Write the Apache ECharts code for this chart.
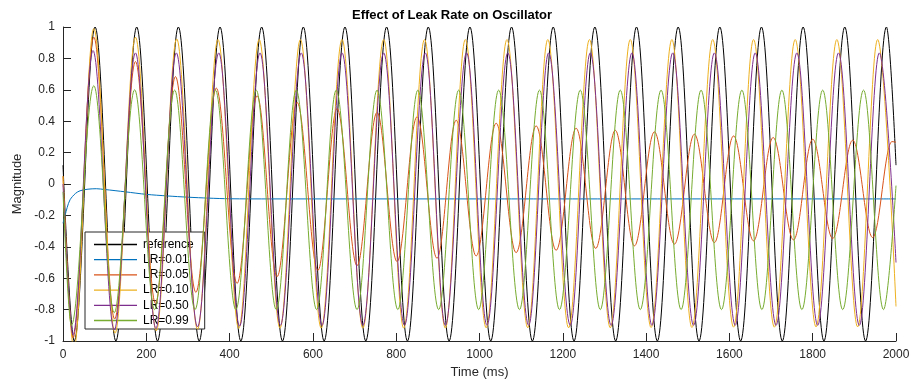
<!DOCTYPE html>
<html>
<head>
<meta charset="utf-8">
<script src="https://cdn.jsdelivr.net/npm/echarts@6/dist/echarts.min.js"></script>
<style>
html,body{margin:0;padding:0;background:#fff;}
#c{width:916px;height:385px;}
</style>
</head>
<body>
<div id="c"></div>
<script>
// ---- data (time in ms, magnitude) ----
const seriesNames = ['reference', 'LR=0.01', 'LR=0.05', 'LR=0.10', 'LR=0.50', 'LR=0.99'];
const xTicks = [0, 200, 400, 600, 800, 1000, 1200, 1400, 1600, 1800, 2000];
const yTicks = [-1, -0.8, -0.6, -0.4, -0.2, 0, 0.2, 0.4, 0.6, 0.8, 1];

// reference: start, then alternating troughs / peaks, end
const refT = [0,27,77,127,177,227,277,327,377,427,477,527,577,627,677,727,777,827,877,927,977,1027,1077,1127,1177,1227,1277,1327,1377,1427,1477,1527,1577,1627,1677,1727,1777,1827,1877,1927,1977,2000];
const refV = [0.12,-1,1,-1,1,-1,1,-1,1,-1,1,-1,1,-1,1,-1,1,-1,1,-1,1,-1,1,-1,1,-1,1,-1,1,-1,1,-1,1,-1,1,-1,1,-1,1,-1,1,0.12];

// LR=0.01: slow drift
const lr001T = [0,5,10,17,30,41,60,80,100,150,200,250,300,350,400,500,1000,2000];
const lr001V = [-0.25,-0.2,-0.15,-0.1,-0.06,-0.043,-0.033,-0.03,-0.035,-0.05,-0.066,-0.076,-0.084,-0.09,-0.094,-0.095,-0.095,-0.095];

// LR=0.05: decaying oscillation (extrema)
const lr005T = [0,24,74,124,174,222,270,319,368,418,466,514,562,612,658,706,754,802,850,898,944,992,1040,1088,1136,1184,1232,1279,1326,1372,1420,1468,1516,1564,1610,1658,1705,1754,1800,1848,1896,1944,1990,2000];
const lr005V = [0.05,-0.98,0.935,-0.86,0.78,-0.76,0.684,-0.69,0.611,-0.633,0.562,-0.59,0.52,-0.55,0.481,-0.52,0.456,-0.494,0.428,-0.473,0.406,-0.458,0.387,-0.437,0.37,-0.422,0.355,-0.41,0.342,-0.394,0.332,-0.383,0.317,-0.373,0.306,-0.362,0.296,-0.356,0.285,-0.347,0.279,-0.341,0.27,0.266];

// LR=0.10 (extrema)
const lr010T = [0,26,74,125,174,224,273,323,372,422,471,521,570,620,670,720,770,818,868,918,966,1016,1066,1116,1164,1214,1264,1314,1362,1412,1462,1510,1560,1610,1658,1708,1758,1808,1858,1908,1956,2000];
const lr010V = [0.05,-1.05,0.99,-0.95,0.935,-0.935,0.924,-0.925,0.92,-0.92,0.92,-0.918,0.92,-0.918,0.92,-0.918,0.92,-0.918,0.92,-0.918,0.92,-0.916,0.92,-0.916,0.92,-0.916,0.92,-0.916,0.92,-0.914,0.92,-0.914,0.92,-0.912,0.92,-0.912,0.92,-0.91,0.92,-0.91,0.92,-0.78];

// LR=0.50 (extrema)
const lr050T = [0,24,72,123,174,223,272,323,374,424,473,522,572,622,670,720,770,820,870,918,969,1018,1068,1118,1166,1218,1266,1316,1366,1414,1464,1514,1564,1614,1662,1712,1762,1812,1862,1912,1960,2000];
const lr050V = [0,-0.96,0.85,-0.93,0.835,-0.92,0.835,-0.91,0.835,-0.905,0.835,-0.9,0.835,-0.9,0.835,-0.9,0.835,-0.9,0.835,-0.9,0.835,-0.9,0.835,-0.9,0.835,-0.9,0.835,-0.9,0.835,-0.9,0.835,-0.9,0.835,-0.9,0.835,-0.9,0.835,-0.9,0.835,-0.9,0.835,-0.5];

// LR=0.99 (extrema)
const lr099T = [0,20,74,123,172,220,268,317,366,415,464,512,560,609,656,706,754,804,852,902,950,998,1046,1096,1144,1192,1242,1290,1338,1386,1436,1484,1532,1581,1630,1678,1726,1774,1824,1872,1922,1970,2000];
const lr099V = [-0.05,-0.9,0.626,-0.82,0.6,-0.8,0.598,-0.8,0.598,-0.8,0.598,-0.8,0.598,-0.8,0.598,-0.8,0.598,-0.8,0.598,-0.8,0.598,-0.8,0.598,-0.8,0.598,-0.8,0.598,-0.8,0.598,-0.8,0.598,-0.8,0.598,-0.8,0.598,-0.8,0.598,-0.8,0.598,-0.8,0.598,-0.8,-0.01];

const colors = ['#000000', '#0072BD', '#D95319', '#EDB120', '#7E2F8E', '#77AC30'];

function zip(t, v) { return t.map((x, i) => [x, v[i]]); }

const seriesData = [
  zip(refT, refV), zip(lr001T, lr001V), zip(lr005T, lr005V),
  zip(lr010T, lr010V), zip(lr050T, lr050V), zip(lr099T, lr099V)
];

const FONT = '"Liberation Sans", Arial, Helvetica, sans-serif';
const axisCol = '#262626';

const chart = echarts.init(document.getElementById('c'), null, { renderer: 'canvas' });
chart.setOption({
  animation: false,
  backgroundColor: '#ffffff',
  title: {
    text: 'Effect of Leak Rate on Oscillator',
    left: 352, top: 9, padding: 0,
    textStyle: { fontFamily: FONT, fontSize: 13, fontWeight: 'bold', color: '#000' }
  },
  grid: { left: 63, right: 20, top: 27, bottom: 44 },
  legend: {
    orient: 'vertical', left: 85, top: 232,
    padding: [6.5, 11, 2.5, 9],
    backgroundColor: '#ffffff', borderColor: '#262626', borderWidth: 1,
    icon: 'rect',
    itemWidth: 43, itemHeight: 1.3, itemGap: 3.2,
    textStyle: { fontFamily: FONT, fontSize: 12, color: '#000', lineHeight: 12, padding: [0, 0, 0, 1] },
    data: seriesNames
  },
  xAxis: {
    type: 'value', min: xTicks[0], max: xTicks[xTicks.length - 1], interval: 200,
    name: 'Time (ms)', nameLocation: 'middle', nameGap: 25,
    nameTextStyle: { fontFamily: FONT, fontSize: 13, color: axisCol },
    axisLine: { onZero: false, lineStyle: { color: axisCol, width: 1 } },
    axisTick: { inside: true, length: 8, lineStyle: { color: axisCol } },
    axisLabel: { fontFamily: FONT, fontSize: 12, color: axisCol, margin: 8,
      formatter: v => String(v) },
    splitLine: { show: false }
  },
  yAxis: {
    type: 'value', min: yTicks[0], max: yTicks[yTicks.length - 1], interval: 0.2,
    name: 'Magnitude', nameLocation: 'middle', nameGap: 39,
    nameTextStyle: { fontFamily: FONT, fontSize: 13, color: axisCol },
    axisLine: { show: true, onZero: false, lineStyle: { color: axisCol, width: 1 } },
    axisTick: { show: true, inside: true, length: 8, lineStyle: { color: axisCol } },
    axisLabel: { fontFamily: FONT, fontSize: 12, color: axisCol, margin: 8,
      formatter: v => String(Math.round(v * 10) / 10) },
    splitLine: { show: false }
  },
  series: seriesNames.map((n, i) => ({
    name: n, type: 'line', data: seriesData[i],
    symbol: 'none', showSymbol: false,
    smooth: i === 1 ? 0.3 : 0.36,
    smoothMonotone: i === 1 ? undefined : 'x',
    clip: true,
    lineStyle: { color: colors[i], width: 1 },
    itemStyle: { color: colors[i] },
    z: 2 + i
  }))
});
</script>
</body>
</html>
